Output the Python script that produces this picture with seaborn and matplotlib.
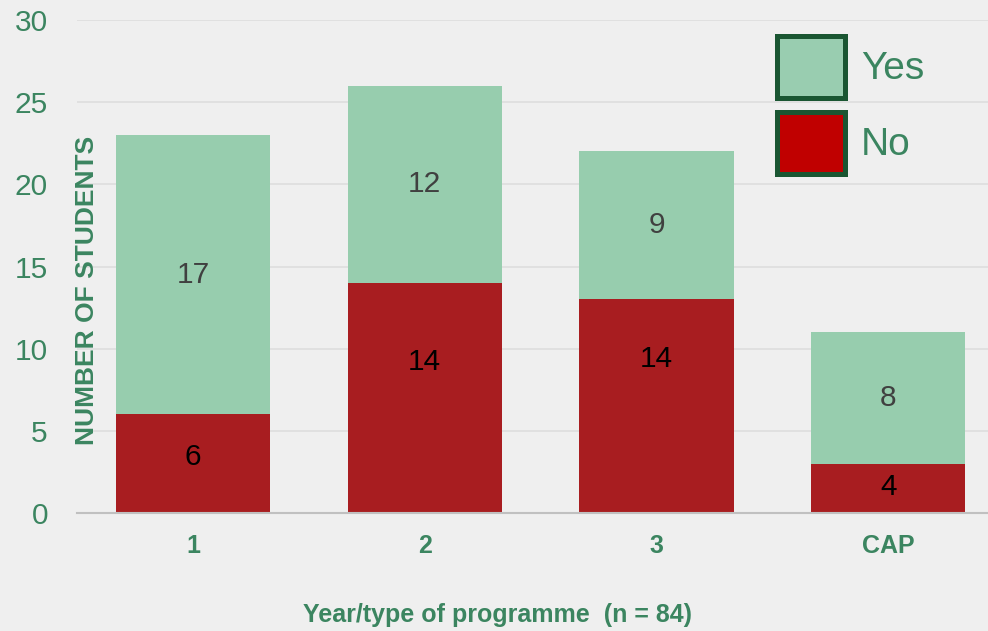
import pandas as pd
import numpy as np
import seaborn as sns
import matplotlib.pyplot as plt
from matplotlib.patches import Patch

# ---------------------------------------------------------
# Data
# ---------------------------------------------------------
categories = ["1", "2", "3", "CAP"]
no_values = [6, 14, 13, 3]
yes_values = [17, 12, 9, 8]
no_labels = ["6", "14", "14", "4"]
yes_labels = ["17", "12", "9", "8"]

# ---------------------------------------------------------
# Style
# ---------------------------------------------------------
BG = "#efefef"
GREEN_TXT = "#3b8560"
YES_COL = "#97cdae"
NO_COL = "#a81d20"

sns.set_theme(style="white")
plt.rcParams["font.family"] = ["Liberation Sans", "DejaVu Sans"]

df = pd.DataFrame({"cat": categories, "no": no_values, "yes": yes_values})
df["total"] = df["no"] + df["yes"]

fig = plt.figure(figsize=(9.88, 6.31), dpi=100, facecolor=BG)
ax = fig.add_axes([0.078, 0.187, 0.922, 0.7813])
ax.set_facecolor(BG)

sns.barplot(data=df, x="cat", y="total", color=YES_COL, saturation=1,
            width=0.665, linewidth=0, ax=ax, zorder=2)
sns.barplot(data=df, x="cat", y="no", color=NO_COL, saturation=1,
            width=0.665, linewidth=0, ax=ax, zorder=2)

# data labels: yes centred in its segment, no labels nudged as in the original
no_nudge = [0.4, 2.2, 2.9, 0.1]
bars = ax.patches
for i in range(len(categories)):
    cx = bars[i].get_x() + bars[i].get_width() / 2
    ax.text(cx, no_values[i] + yes_values[i] / 2, yes_labels[i], ha="center", va="center",
            fontsize=21.5, color="#404040", zorder=3)
    ax.text(cx, no_values[i] / 2 + no_nudge[i], no_labels[i], ha="center", va="center",
            fontsize=21.5, color="black", zorder=3)

ax.set_ylim(0, 30)
ax.set_xlim(-0.5, 3.43)
ax.set_yticks(np.arange(0, 31, 5))
ax.yaxis.grid(True, color="#dedede", linewidth=1.2, zorder=0)
ax.set_axisbelow(True)
for side in ["top", "right", "left"]:
    ax.spines[side].set_visible(False)
ax.spines["bottom"].set_color("#c0c0c0")
ax.spines["bottom"].set_linewidth(1.5)

ax.tick_params(axis="y", length=0, pad=21, labelsize=21.5, labelcolor=GREEN_TXT)
ax.tick_params(axis="x", length=0, pad=15, labelsize=18, labelcolor=GREEN_TXT)
for lbl in ax.get_xticklabels():
    lbl.set_fontweight("bold")

ax.set_xlabel("Year/type of programme  (n = 84)", fontsize=18, fontweight="bold",
              color=GREEN_TXT)
ax.xaxis.set_label_coords(0.462, -0.182)
ax.set_ylabel("")
fig.text(0.088, 0.54, "NUMBER OF STUDENTS", rotation=90, ha="center", va="center",
         fontsize=19, fontweight="bold", color=GREEN_TXT)

handles = [Patch(facecolor="#99cdb0", edgecolor="#1a5632", linewidth=3.6, label="Yes"),
           Patch(facecolor="#c00000", edgecolor="#1a5632", linewidth=3.6, label="No")]
leg = ax.legend(handles=handles, loc="upper left", bbox_to_anchor=(0.7515, 1.0),
                frameon=False, fontsize=28, handlelength=1.75, handleheight=2.1,
                labelspacing=0.35, handletextpad=0.4, borderaxespad=0)
for t in leg.get_texts():
    t.set_color(GREEN_TXT)

plt.savefig("out.png", dpi=100, facecolor=BG)
